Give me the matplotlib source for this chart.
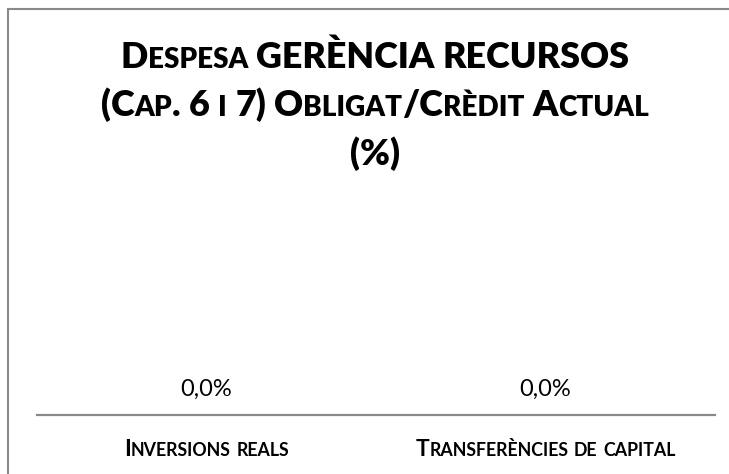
import matplotlib
matplotlib.use("Agg")
import matplotlib.pyplot as plt
from matplotlib.patches import Rectangle
from matplotlib.transforms import IdentityTransform

# ---- data -------------------------------------------------------------
categories = ["Inversions reals", "Transferències de capital"]
values = [0.0, 0.0]
title_lines = ["Despesa GERÈNCIA RECURSOS",
               "(Cap. 6 i 7) Obligat/Crèdit Actual",
               "(%)"]

# ---- figure -----------------------------------------------------------
W, H, DPI = 729, 474, 100
fig = plt.figure(figsize=(W / DPI, H / DPI), dpi=DPI)
fig.patch.set_facecolor("white")
FONT = "Lato"
GRAY = "#898989"
TXT = "#000000"

# chart frame; its right and bottom edges run past the canvas
fig.add_artist(Rectangle((8 / W, -0.1), 1.2, (H - 9) / H + 0.1,
                         transform=fig.transFigure, fill=False,
                         edgecolor=GRAY, linewidth=1.5))

ax = fig.add_axes([37 / W, (H - 414.7) / H, (715 - 37) / W, 0.35])
x = list(range(len(categories)))
ax.bar(x, values, width=0.6, color="#4472C4")
ax.set_xlim(-0.5, len(categories) - 0.5)
ax.set_ylim(0, 1)
for side in ("top", "left", "right"):
    ax.spines[side].set_visible(False)
ax.spines["bottom"].set_color(GRAY)
ax.spines["bottom"].set_linewidth(1.6)
ax.set_xticks(x)
ax.set_xticklabels([])
ax.set_yticks([])
ax.tick_params(length=0)
ax.patch.set_visible(False)

for xi, v in zip(x, values):
    ax.annotate(f"{v:.1f}%".replace(".", ","), xy=(xi, v), xytext=(0, 18),
                textcoords="offset points", ha="center", va="center",
                fontsize=17, family=FONT, color=TXT)

renderer = fig.canvas.get_renderer()


def _width(s, size, weight):
    t = fig.text(0, 0, s, fontsize=size, family=FONT, weight=weight,
                 transform=IdentityTransform())
    w = t.get_window_extent(renderer).width
    t.remove()
    return w


def small_caps(text, cx, baseline, size, weight="bold", ratio=0.78,
               color=TXT):
    """Draw text centred at cx (pixels) in small capitals."""
    small = size * ratio
    words = text.split(" ")
    pieces = []  # (string, fontsize) per run, None marks a space
    for k, word in enumerate(words):
        if k:
            pieces.append(None)
        run, run_small = "", None
        for ch in word:
            is_small = ch.isalpha() and ch.islower()
            if run and is_small != run_small:
                pieces.append((run, small if run_small else size))
                run = ""
            run_small = is_small
            run += ch.upper() if is_small else ch
        if run:
            pieces.append((run, small if run_small else size))
    space = _width("n n", size, weight) - _width("nn", size, weight)
    widths = [space if p is None else _width(p[0], p[1], weight)
              for p in pieces]
    xpos = cx - sum(widths) / 2
    for p, w in zip(pieces, widths):
        if p is not None:
            fig.text(xpos, baseline, p[0], fontsize=p[1], family=FONT,
                     weight=weight, color=color, ha="left", va="baseline",
                     transform=IdentityTransform())
        xpos += w


# title
for line, top_px in zip(title_lines, [68, 116, 165]):
    small_caps(line, 375, H - top_px, 25.8, weight="heavy")

# category labels
for xi, label in zip(x, categories):
    cx = ax.transData.transform((xi, 0))[0]
    small_caps(label, cx, H - 456, 16.4)

fig.savefig("out.png", dpi=DPI, facecolor="white")
